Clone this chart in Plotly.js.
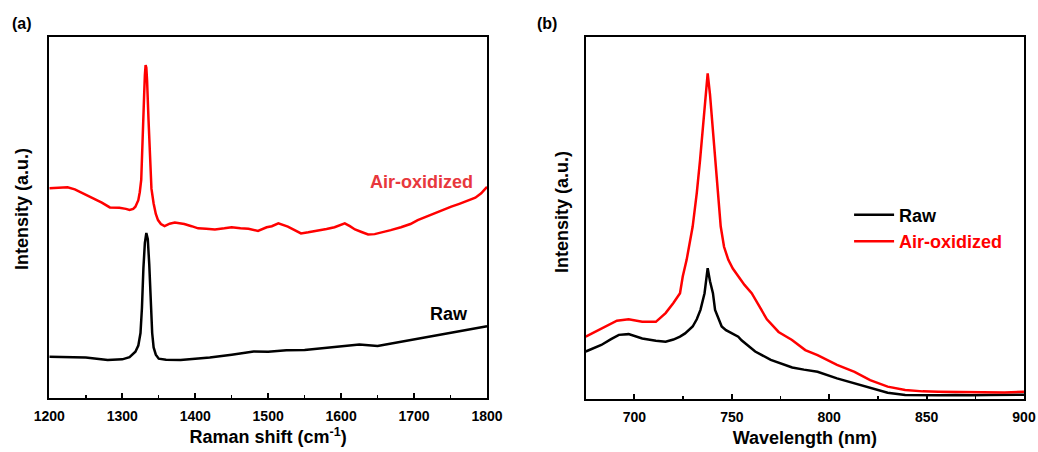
<!DOCTYPE html>
<html>
<head>
<meta charset="utf-8">
<script src="https://cdn.plot.ly/plotly-3.0.1.min.js"></script>
<style>html,body{margin:0;padding:0;background:#fff;}#chart{width:1038px;height:452px;}</style>
</head>
<body>
<div id="chart"></div>
<script>
// Panel (a): Raman spectra
const ramanShiftRaw = [1200,1220,1250,1265,1280,1300,1310,1318,1322,1325,1327,1329,1331,1333,1335,1337,1339,1341,1343,1346,1350,1360,1380,1400,1420,1450,1480,1500,1525,1550,1575,1600,1625,1650,1675,1700,1725,1750,1775,1800];
const ramanRaw      = [11.4,11.4,11.2,10.9,10.5,10.7,11.3,12.8,14.5,18,25,36,43,45.7,44,37,27,18,14,12,10.9,10.6,10.5,10.8,11.2,12,12.9,12.8,13.2,13.3,13.8,14.5,14.8,14.4,15.3,16.2,17,17.9,18.8,19.9];
const ramanShiftAir = [1200,1212,1225,1235,1244,1253,1262,1272,1283,1296,1305,1310,1315,1318,1322,1324,1326,1328,1330,1331,1332,1333,1334,1336,1338,1340,1343,1346,1349,1353,1358,1365,1372,1385,1395,1404,1415,1427,1440,1450,1462,1473,1486,1498,1505,1514,1527,1536,1545,1555,1568,1580,1591,1600,1605,1612,1619,1628,1637,1646,1655,1668,1682,1695,1705,1716,1728,1740,1751,1762,1774,1784,1792,1800];
const ramanAir      = [58.1,58.3,58.4,57.8,56.9,56.1,55.3,54.1,52.8,52.7,52.4,52.1,52.4,53.0,54.8,57,60.4,70,84,89.5,92.2,91.5,88,77,65,58,53.9,51,49.3,48.2,47.6,48.3,48.6,48.2,47.6,47.0,46.9,46.7,47.0,47.3,47.0,46.9,46.3,47.3,47.6,48.4,47.5,46.6,45.6,45.9,46.3,46.8,47.3,47.9,48.4,47.6,46.7,46.0,45.3,45.4,45.8,46.5,47.3,48.2,49.3,50.2,51.3,52.1,53.0,53.8,54.7,55.5,56.7,58.5];
const ramanTickVals = [1200,1300,1400,1500,1600,1700,1800];
const ramanTickText = ['1200','1300','1400','1500','1600','1700','1800'];

// Panel (b): PL spectra
const wavelengthRaw = [675,680,683,688,692,697,704,711,716,720,723.4,726,729.9,732,733.9,736,737.6,738.8,740.3,741.4,743,744.8,747,749.8,753.3,755,762,770,775,781,787,794,804,813,821,830,839,848,856,865,873,882,890,900];
const plRaw         = [13.1,14.2,14.9,16.5,17.7,17.9,16.7,16.1,15.8,16.4,17.2,18.1,20,22,24.6,29.2,36.1,32.5,29.2,24.6,22.5,20,19,18.1,17.2,16.2,13.1,10.8,9.8,8.7,8.1,7.5,5.7,4.3,2.9,1.7,1.1,1.0,1.0,1.1,1.0,1.1,1.2,1.2];
const wavelengthAir = [675,680,685,691,697,704,711,716,720,723.4,724.8,726.8,729.9,732,733.7,735.1,736.5,737.6,738.8,740.2,741.4,742.8,744.3,746,748.2,750.5,753.3,756.5,760.2,764,768,774,780.9,787.7,794,804,813,821,830,839,848,856,865,873,882,890,900];
const plAir         = [17.2,18.6,20.0,21.6,22.0,21.3,21.3,23.7,26.5,29.2,33.8,38.4,47.6,56.8,66,75.2,84,89.9,84,75.2,66,56.8,47.6,42,38.4,36,33.8,31.5,29.2,25.5,22,18.5,16.3,13.5,12.1,9.4,7.5,5.2,3.4,2.5,2.1,2.0,1.9,2.0,1.9,1.8,2.0];
const plTickVals = [700,750,800,850,900];
const plTickText = ['700','750','800','850','900'];

const fontFam = 'Arial, "Liberation Sans", sans-serif';
const RED = '#ff0000';
const bold = s => '<b>' + s + '</b>';

const traces = [
  {x: ramanShiftRaw, y: ramanRaw, xaxis:'x', yaxis:'y', mode:'lines', line:{color:'#000', width:2.5}, showlegend:false, name:'Raw'},
  {x: ramanShiftAir, y: ramanAir, xaxis:'x', yaxis:'y', mode:'lines', line:{color:RED, width:2.5}, showlegend:false, name:'Air-oxidized'},
  {x: wavelengthRaw, y: plRaw, xaxis:'x2', yaxis:'y2', mode:'lines', line:{color:'#000', width:2.5}, name:'Raw'},
  {x: wavelengthAir, y: plAir, xaxis:'x2', yaxis:'y2', mode:'lines', line:{color:RED, width:2.5}, name:'<span style="color:#ff0000">Air-oxidized</span>'}
];

const axisCommon = {
  showline:true, mirror:true, linecolor:'#000', linewidth:2,
  showgrid:false, zeroline:false,
  tickfont:{family:fontFam, size:14, color:'#000'}
};

const layout = {
  width:1038, height:452,
  margin:{l:0, r:0, t:0, b:0},
  paper_bgcolor:'#fff', plot_bgcolor:'#fff',
  font:{family:fontFam, color:'#000'},
  xaxis: Object.assign({}, axisCommon, {
    domain:[0.0475, 0.4692], range:[1200,1800],
    tickmode:'array', tickvals:ramanTickVals, ticktext:ramanTickText.map(bold),
    ticks:'inside', ticklen:5, tickwidth:2, tickcolor:'#000',
    minor:{ticks:'inside', ticklen:3, tickwidth:1.5, dtick:50, tick0:1200, tickcolor:'#000'},
    title:{text:'<b>Raman shift (cm<sup>-1</sup>)</b>', font:{family:fontFam, size:18, color:'#000'}, standoff:8},
    ticklabelstandoff:4
  }),
  yaxis: Object.assign({}, axisCommon, {
    domain:[0.1195, 0.918], range:[0,100], showticklabels:false, ticks:''
  }),
  xaxis2: Object.assign({}, axisCommon, {
    domain:[0.5643, 0.9865], range:[675,900], anchor:'y2',
    tickmode:'array', tickvals:plTickVals, ticktext:plTickText.map(bold),
    ticks:'inside', ticklen:5, tickwidth:2, tickcolor:'#000',
    minor:{ticks:'inside', ticklen:3, tickwidth:1.5, dtick:25, tick0:675, tickcolor:'#000'},
    title:{text:'<b>Wavelength (nm)</b>', font:{family:fontFam, size:18, color:'#000'}, standoff:8},
    ticklabelstandoff:4
  }),
  yaxis2: Object.assign({}, axisCommon, {
    domain:[0.1173, 0.9188], range:[0,100], showticklabels:false, ticks:'', anchor:'x2'
  }),
  showlegend:true,
  legend:{
    x:0.818, y:0.565, xanchor:'left', yanchor:'top',
    bgcolor:'rgba(0,0,0,0)', borderwidth:0,
    font:{family:fontFam, size:18, color:'#000', weight:'bold'},
    tracegroupgap:0, itemwidth:40
  },
  annotations:[
    {xref:'paper', yref:'paper', x:10/1038, y:1-24/452, xanchor:'left', yanchor:'middle', text:'<b>(a)</b>', showarrow:false, font:{family:fontFam, size:16, color:'#000'}},
    {xref:'paper', yref:'paper', x:535/1038, y:1-24/452, xanchor:'left', yanchor:'middle', text:'<b>(b)</b>', showarrow:false, font:{family:fontFam, size:16, color:'#000'}},
    {xref:'paper', yref:'paper', x:22/1038, y:1-209/452, xanchor:'center', yanchor:'middle', textangle:-90, text:'<b>Intensity (a.u.)</b>', showarrow:false, font:{family:fontFam, size:18, color:'#000'}},
    {xref:'paper', yref:'paper', x:562/1038, y:1-212/452, xanchor:'center', yanchor:'middle', textangle:-90, text:'<b>Intensity (a.u.)</b>', showarrow:false, font:{family:fontFam, size:18, color:'#000'}},
    {xref:'paper', yref:'paper', x:368/1038, y:1-182/452, xanchor:'left', yanchor:'middle', text:'<b>Air-oxidized</b>', showarrow:false, font:{family:fontFam, size:18, color:'#e8383d'}},
    {xref:'paper', yref:'paper', x:428/1038, y:1-314/452, xanchor:'left', yanchor:'middle', text:'<b>Raw</b>', showarrow:false, font:{family:fontFam, size:18, color:'#000'}}
  ]
};

Plotly.newPlot('chart', traces, layout, {displayModeBar:false, staticPlot:true});
</script>
</body>
</html>
